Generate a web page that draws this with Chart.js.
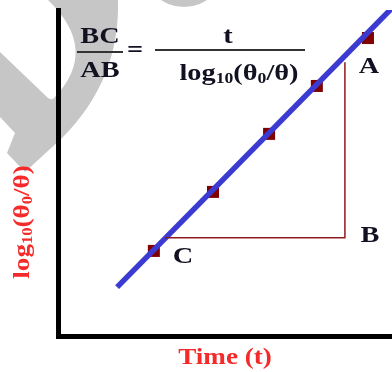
<!DOCTYPE html>
<html>
<head>
<meta charset="utf-8">
<script src="https://cdn.jsdelivr.net/npm/chart.js@4.4.1/dist/chart.umd.min.js"></script>
<style>
  html, body { margin: 0; padding: 0; background: #fff; overflow: hidden; }
  canvas { display: block; }
</style>
</head>
<body>
<canvas id="chart" width="392" height="372"></canvas>
<script>
// fitted line (two ends) and measured points, in axis units 0..10
const lineX = [1.77, 10.0];
const lineY = [1.50, 10.06];
const pointX = [2.87, 4.64, 6.32, 7.75, 9.28];
const pointY = [2.61, 4.42, 6.20, 7.67, 9.14];
// right triangle C -> B -> A
const triX = [3.20, 8.59, 8.59];
const triY = [3.01, 3.01, 8.40];
const cornerNames = ['A', 'B', 'C'];
const cornerX = [9.31, 9.34, 3.74];
const cornerY = [8.07, 2.88, 2.24];

const xTitle = 'Time (t)';
const yTitle = [['log', 0], ['10', 1], ['(θ', 0], ['0', 1], ['/θ)', 0]];

const toXY = (xs, ys) => xs.map((x, i) => ({ x: x, y: ys[i] }));

const SERIF = '"Liberation Serif", serif';
const STRETCH = 1.18;

// draws text with subscript parts, horizontally stretched like the original
function richText(ctx, parts, x, y, color, size) {
    ctx.save();
    ctx.fillStyle = color;
    ctx.textBaseline = 'alphabetic';
    ctx.textAlign = 'left';
    const subSize = Math.round(size * 0.62);
    let w = 0;
    parts.forEach(p => {
        ctx.font = 'bold ' + (p[1] ? subSize : size) + 'px ' + SERIF;
        w += ctx.measureText(p[0]).width;
    });
    ctx.translate(x, y);
    ctx.scale(STRETCH, 1);
    let cx = -w / 2;
    parts.forEach(p => {
        ctx.font = 'bold ' + (p[1] ? subSize : size) + 'px ' + SERIF;
        ctx.fillText(p[0], cx, p[1] ? 3 : 0);
        cx += ctx.measureText(p[0]).width;
    });
    ctx.restore();
}

const watermark = {
    id: 'watermark',
    beforeDraw(chart) {
        const ctx = chart.ctx;
        ctx.save();
        ctx.fillStyle = '#c6c6c6';
        ctx.beginPath();
        ctx.moveTo(48, 0);
        ctx.quadraticCurveTo(100, 50, 54, 98);
        ctx.quadraticCurveTo(51, 101, 47, 97);
        ctx.lineTo(0, 52);
        ctx.lineTo(0, 117);
        ctx.lineTo(15, 133);
        ctx.lineTo(7, 153);
        ctx.lineTo(25, 172);
        ctx.lineTo(62, 138);
        ctx.quadraticCurveTo(120, 80, 118, 0);
        ctx.closePath();
        ctx.fill();
        ctx.beginPath();
        ctx.arc(184, -34, 41, 0, Math.PI * 2);
        ctx.fill();
        ctx.restore();
    }
};

const annotations = {
    id: 'annotations',
    afterDraw(chart) {
        const ctx = chart.ctx;
        const xs = chart.scales.x, ys = chart.scales.y;
        const ink = '#111122';
        const red = '#f52a2a';

        // formula BC/AB = t / log10(θ0/θ)
        richText(ctx, [['BC', 0]], 100, 43, ink, 24);
        richText(ctx, [['AB', 0]], 100, 77, ink, 24);
        richText(ctx, [['=', 0]], 135, 57, ink, 24);
        richText(ctx, [['t', 0]], 228, 43, ink, 24);
        richText(ctx, yTitle, 239, 80, ink, 24);
        ctx.save();
        ctx.strokeStyle = '#333333';
        ctx.lineWidth = 2;
        ctx.beginPath();
        ctx.moveTo(77, 52); ctx.lineTo(123, 52);
        ctx.moveTo(155, 50); ctx.lineTo(305, 50);
        ctx.stroke();
        ctx.restore();

        // corner letters
        cornerNames.forEach((n, i) => {
            richText(ctx, [[n, 0]], xs.getPixelForValue(cornerX[i]), ys.getPixelForValue(cornerY[i]), ink, 24);
        });

        // axis titles
        richText(ctx, [[xTitle, 0]], 225, 364, red, 23);
        ctx.save();
        ctx.translate(29, 222);
        ctx.rotate(-Math.PI / 2);
        richText(ctx, yTitle, 0, 0, red, 23);
        ctx.restore();
    }
};

function draw() {
    new Chart(document.getElementById('chart').getContext('2d'), {
        type: 'scatter',
        data: {
            datasets: [
                {
                    data: toXY(triX, triY),
                    showLine: true,
                    borderColor: '#8e1c1c',
                    borderWidth: 1.5,
                    pointRadius: 0
                },
                {
                    data: toXY(lineX, lineY),
                    showLine: true,
                    borderColor: '#3b3bd1',
                    borderWidth: 5.5,
                    pointRadius: 0
                },
                {
                    data: toXY(pointX, pointY),
                    pointStyle: 'rect',
                    pointRadius: 8.5,
                    backgroundColor: '#800000',
                    borderColor: '#800000',
                    borderWidth: 0
                }
            ]
        },
        options: {
            responsive: false,
            animation: false,
            devicePixelRatio: 1,
            layout: { autoPadding: false, padding: { left: 58, top: 10, right: 0, bottom: 36 } },
            plugins: { legend: { display: false }, tooltip: { enabled: false } },
            scales: {
                x: {
                    min: 0, max: 10,
                    grid: { display: false, drawTicks: false },
                    ticks: { display: false },
                    border: { color: '#000', width: 5 },
                    afterFit: s => { s.height = 0; }
                },
                y: {
                    min: 0, max: 10,
                    grid: { display: false, drawTicks: false },
                    ticks: { display: false },
                    border: { color: '#000', width: 5 },
                    afterFit: s => { s.width = 0; }
                }
            }
        },
        plugins: [watermark, annotations]
    });
}

if (document.fonts && document.fonts.load) {
    document.fonts.load('bold 24px "Liberation Serif"').then(draw, draw);
} else {
    draw();
}
</script>
</body>
</html>
